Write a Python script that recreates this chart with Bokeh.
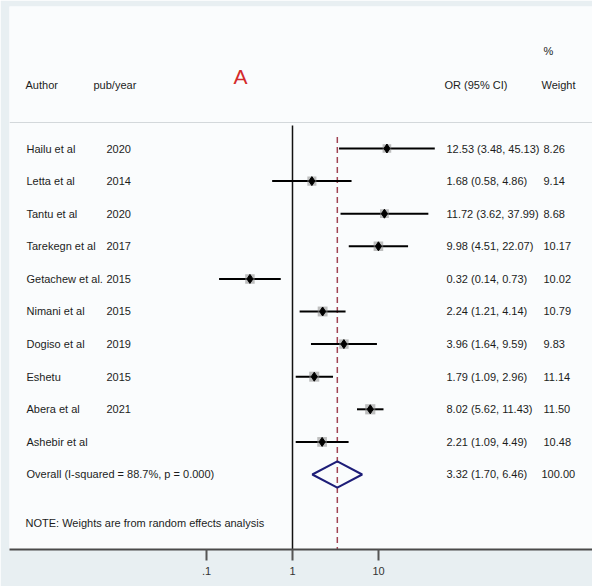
from bokeh.plotting import figure
from bokeh.models import Range1d, FixedTicker, ColumnDataSource, LinearScale
from bokeh.core.properties import value
from bokeh.embed import file_html
from bokeh.resources import INLINE

# Study-level data (odds ratios with 95% CI and random-effects weights)
authors = ["Hailu et al", "Letta et al", "Tantu et al", "Tarekegn et al",
           "Getachew et al.", "Nimani et al", "Dogiso et al", "Eshetu",
           "Abera et al", "Ashebir et al"]
years = ["2020", "2014", "2020", "2017", "2015", "2015", "2019", "2015", "2021", ""]
odds = [12.53, 1.68, 11.72, 9.98, 0.32, 2.24, 3.96, 1.79, 8.02, 2.21]
ci_low = [3.48, 0.58, 3.62, 4.51, 0.14, 1.21, 1.64, 1.09, 5.62, 1.09]
ci_high = [45.13, 4.86, 37.99, 22.07, 0.73, 4.14, 9.59, 2.96, 11.43, 4.49]
weights = [8.26, 9.14, 8.68, 10.17, 10.02, 10.79, 9.83, 11.14, 11.50, 10.48]

# Pooled estimate
overall_or = 3.32
overall_low = 1.70
overall_high = 6.46
overall_weight = 100.00
i_squared = 88.7
p_het = 0.000

tick_values = [0.1, 1, 10]
tick_labels = [".1", "1", "10"]

FONT = "Liberation Sans"
TXT = "#1c1c1c"
FS = "11px"

n = len(authors)
rows = list(range(n))
overall_row = n

p = figure(width=592, height=586, x_axis_type="log",
           x_range=Range1d(10 ** -3.2907, 10 ** 3.4884),
           y_range=Range1d(12.301, -4.356),
           y_axis_location=None, toolbar_location=None,
           output_backend="svg",
           min_border_left=9, min_border_right=0,
           min_border_top=6, min_border_bottom=37)
# linear column coordinates for the text table
p.extra_x_ranges = {"cols": Range1d(9, 592)}
p.extra_x_scales = {"cols": LinearScale()}
p.background_fill_color = "#fafcfd"
p.border_fill_color = "#e8eff2"
p.outline_line_color = None
p.xgrid.visible = False
p.ygrid.visible = False

# x axis (log odds ratio)
ax = p.xaxis[0]
ax.ticker = FixedTicker(ticks=tick_values, minor_ticks=[])
ax.major_label_overrides = {t: l for t, l in zip(tick_values, tick_labels)}
ax.axis_line_color = "#4a4a4a"
ax.axis_line_width = 2
ax.major_tick_line_color = "#555555"
ax.major_tick_line_width = 2
ax.major_tick_out = 11
ax.major_tick_in = 0
ax.minor_tick_line_color = None
ax.major_label_standoff = 6
ax.major_label_text_font = FONT
ax.major_label_text_font_size = FS
ax.major_label_text_color = "#333333"

# header separator
p.segment(x0=[9], y0=[-0.798], x1=[592], y1=[-0.798], line_color="#d3d8db",
          line_width=1, x_range_name="cols")

# null line at OR = 1 and dashed line at the pooled estimate
p.segment(x0=[1], y0=[-0.706], x1=[1], y1=[12.301], line_color="#111111", line_width=1.5)
p.segment(x0=[overall_or], y0=[-0.35], x1=[overall_or], y1=[12.301],
          line_color="#a04454", line_width=1.5, line_dash="6 4")

# confidence intervals, weight boxes and point estimates
src = ColumnDataSource(dict(row=rows, odds=odds, lo=ci_low, hi=ci_high,
                            box=[3.0 * w ** 0.5 for w in weights]))
p.segment(x0="lo", y0="row", x1="hi", y1="row", source=src,
          line_color="black", line_width=2)
p.scatter(x="odds", y="row", size="box", marker="square", source=src,
          fill_color="#8a8a8a", fill_alpha=0.55, line_color=None)
p.scatter(x="odds", y="row", size=9, marker="diamond", source=src,
          fill_color="black", line_color="black")

# pooled diamond
p.patch(x=[overall_low, overall_or, overall_high, overall_or],
        y=[overall_row, overall_row - 0.4, overall_row, overall_row + 0.4],
        fill_color=None, line_color="#1d1d78", line_width=2)

def put(xs, ys, texts, size=FS, color=TXT, font=FONT):
    p.text(x=xs, y=ys, text=texts, x_range_name="cols",
           text_font=value(font), text_font_size=size, text_color=color,
           text_baseline="middle", text_align="left")

# header
put([25], [-1.963], ["Author"])
put([93], [-1.963], ["pub/year"])
put([444], [-1.963], ["OR (95% CI)"])
put([543], [-3.006], ["%"])
put([541], [-1.963], ["Weight"])
put([233], [-2.2], ["A"], size="21px", color="#d42a2a")

# study rows
ci_text = [f"{o:.2f} ({l:.2f}, {h:.2f})" for o, l, h in zip(odds, ci_low, ci_high)]
w_text = [f"{w:.2f}" for w in weights]
put([26] * n, rows, authors)
put([106] * n, rows, years)
put([446] * n, rows, ci_text)
put([543] * n, rows, w_text)

# pooled row
put([26], [overall_row], [f"Overall  (I-squared = {i_squared:.1f}%, p = {p_het:.3f})"])
put([446], [overall_row], [f"{overall_or:.2f} ({overall_low:.2f}, {overall_high:.2f})"])
put([541], [overall_row], [f"{overall_weight:.2f}"])

put([25], [11.503], ["NOTE: Weights are from random effects analysis"])

open("out.html", "w").write(file_html(p, INLINE))
